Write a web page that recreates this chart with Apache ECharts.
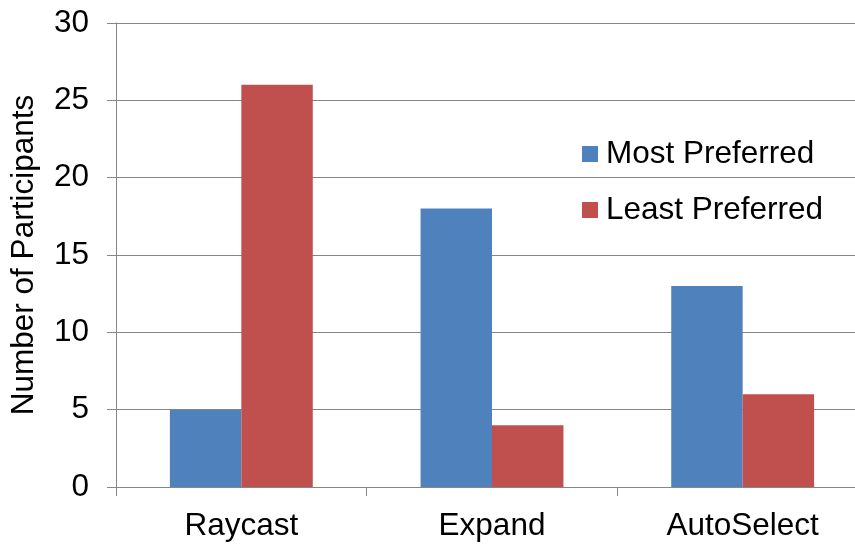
<!DOCTYPE html>
<html>
<head>
<meta charset="utf-8">
<script src="https://cdn.jsdelivr.net/npm/echarts@6/dist/echarts.min.js"></script>
<style>html,body{margin:0;padding:0;background:#fff;overflow:hidden;}#c{width:868px;height:546px;}</style>
</head>
<body>
<div id="c"></div>
<script>
var categories = ['Raycast', 'Expand', 'AutoSelect'];
var mostPreferred = [5, 18, 13];
var leastPreferred = [26, 4, 6];
var yTicks = { min: 0, max: 30, interval: 5 };

var chart = echarts.init(document.getElementById('c'), null, { renderer: 'canvas' });
var font = 'Liberation Sans, Arial, sans-serif';
var fs = 31.5;
chart.setOption({
  animation: false,
  backgroundColor: '#fff',
  textStyle: { fontFamily: font },
  grid: { left: 115, right: 0, top: 23, bottom: 59, containLabel: false },
  legend: {
    orient: 'vertical',
    left: 577, top: 133,
    itemWidth: 16, itemHeight: 16, itemGap: 24,
    icon: 'rect',
    textStyle: { fontSize: fs, color: '#000', fontFamily: font, lineHeight: 32, padding: [0, 0, 0, 3] },
    data: ['Most Preferred', 'Least Preferred']
  },
  xAxis: {
    type: 'category',
    data: categories,
    axisLine: { lineStyle: { color: '#868686', width: 1 } },
    axisTick: { show: true, length: 9, lineStyle: { color: '#868686' } },
    axisLabel: { fontSize: fs, color: '#000', margin: 23, fontFamily: font }
  },
  yAxis: {
    type: 'value',
    min: yTicks.min, max: yTicks.max, interval: yTicks.interval,
    name: 'Number of Participants',
    nameLocation: 'middle',
    nameGap: 76,
    nameTextStyle: { fontSize: fs, color: '#000', fontFamily: font },
    axisLine: { show: true, lineStyle: { color: '#868686', width: 1 } },
    axisTick: { show: true, length: 9, lineStyle: { color: '#868686' } },
    splitLine: { show: true, lineStyle: { color: '#868686', width: 1 } },
    axisLabel: { fontSize: fs, color: '#000', margin: 27, fontFamily: font }
  },
  series: [
    { name: 'Most Preferred', type: 'bar', data: mostPreferred, barGap: '0%', barCategoryGap: '43%',
      itemStyle: { color: '#4F81BD' } },
    { name: 'Least Preferred', type: 'bar', data: leastPreferred, barGap: '0%', barCategoryGap: '43%',
      itemStyle: { color: '#C0504D' } }
  ]
});
</script>
</body>
</html>
